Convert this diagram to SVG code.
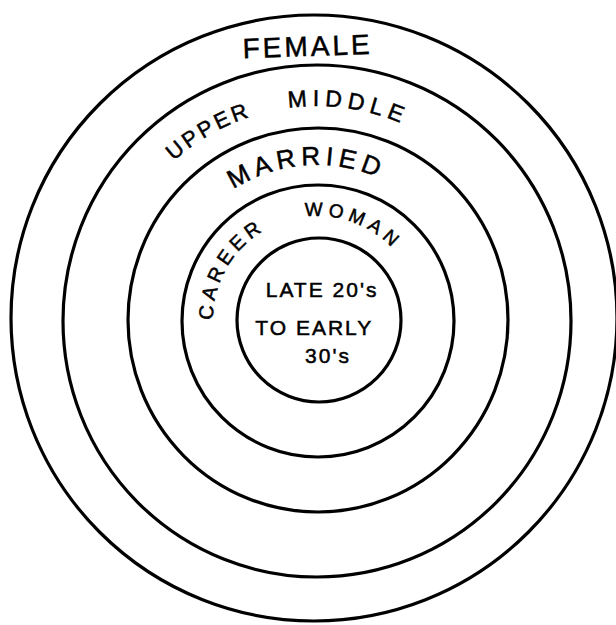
<svg xmlns="http://www.w3.org/2000/svg" width="616" height="625" viewBox="0 0 616 625">
  <style>
    .ring { fill: none; stroke: #000; stroke-width: 3.2; }
    .lbl { font-family: "Liberation Sans", "DejaVu Sans", sans-serif; fill: #000; stroke: #000; stroke-width: 0.5; }
  </style>
  <defs>
    <path id="p-upper" d="M 103 320 A 214 214 0 0 1 531 320"/>
    <path id="p-married" d="M 162 320 A 155 155 0 0 1 472 320"/>
    <path id="p-career" d="M 219.3 355.6 A 104 104 0 1 1 419.4 338.1"/>
  </defs>
  <rect width="616" height="625" fill="#fff"/>

  <g id="female">
    <circle class="ring" cx="314" cy="318" r="303"/>
    <text class="lbl" x="308" y="56" font-size="28" letter-spacing="3" text-anchor="middle" transform="rotate(-2 308 56)">FEMALE</text>
  </g>

  <g id="upper-middle">
    <ellipse class="ring" cx="317" cy="321" rx="254" ry="256"/>
    <text class="lbl" font-size="22" letter-spacing="3"><textPath href="#p-upper" startOffset="179">UPPER</textPath></text>
    <text class="lbl" font-size="23" letter-spacing="5.5"><textPath href="#p-upper" startOffset="307">MIDDLE</textPath></text>
  </g>

  <g id="married">
    <ellipse class="ring" cx="318" cy="320" rx="190" ry="192"/>
    <text class="lbl" font-size="26" letter-spacing="5"><textPath href="#p-married" startOffset="155">MARRIED</textPath></text>
  </g>

  <g id="career-woman">
    <circle class="ring" cx="318" cy="321" r="136"/>
    <text class="lbl" font-size="20" letter-spacing="4.5"><textPath href="#p-career" startOffset="36">CAREER</textPath></text>
    <text class="lbl" font-size="19" letter-spacing="5"><textPath href="#p-career" startOffset="187.5">WOMAN</textPath></text>
  </g>

  <g id="age">
    <circle class="ring" cx="319" cy="320" r="82"/>
    <text class="lbl" font-size="21" letter-spacing="2" text-anchor="middle">
      <tspan x="326" y="297">LATE 20's</tspan>
      <tspan x="318" y="335">TO EARLY</tspan>
      <tspan x="328" y="363">30's</tspan>
    </text>
  </g>
</svg>
